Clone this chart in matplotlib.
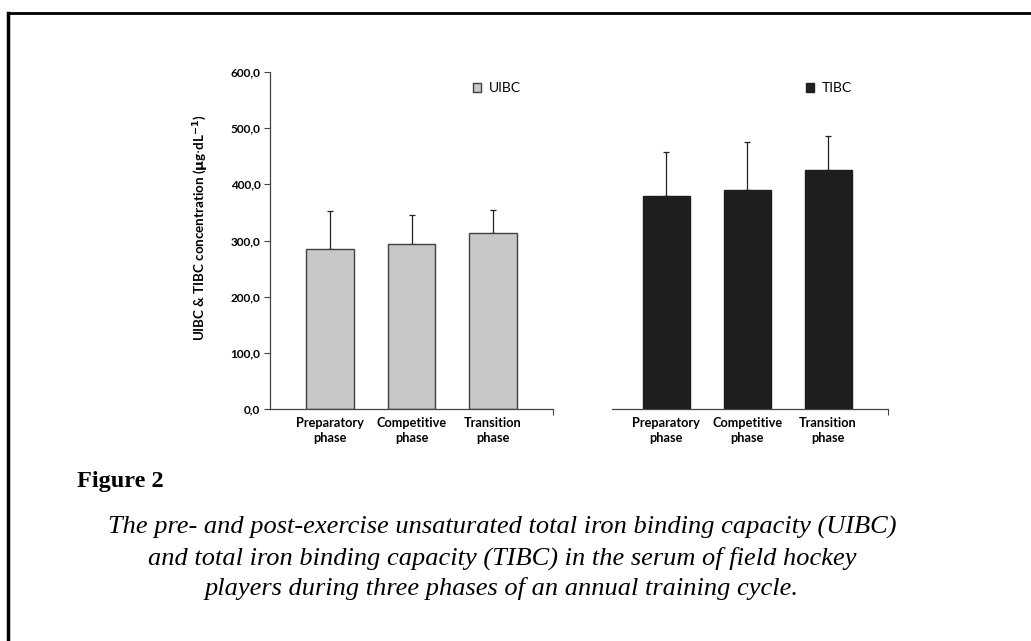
import matplotlib
matplotlib.use('Agg')
import matplotlib.pyplot as plt
from matplotlib.patches import Patch
from matplotlib.lines import Line2D

phases = ['Preparatory\nphase', 'Competitive\nphase', 'Transition\nphase']
uibc_mean = [284, 294, 314]
uibc_sd = [69, 51, 40]
tibc_mean = [380, 390, 426]
tibc_sd = [77, 85, 60]
yticks = [0, 100, 200, 300, 400, 500, 600]

W, H = 1031, 641
fig = plt.figure(figsize=(W / 100, H / 100), dpi=100)
plt.rcParams['font.family'] = ['Lato', 'DejaVu Sans']


def fx(px):
    return px / W


def fy(py):
    return 1 - py / H


def draw_panel(ax, means, sds, color, edge, xlim, show_y):
    x = range(len(means))
    ax.bar(x, means, width=0.58, color=color, edgecolor=edge, linewidth=1.0, zorder=2)
    ax.errorbar(x, means, yerr=[[0] * len(sds), sds], fmt='none', ecolor='#222222',
                elinewidth=0.9, capsize=2.5, capthick=0.9, zorder=1)
    ax.set_xlim(*xlim)
    ax.set_ylim(0, 600)
    ax.set_xticks(list(x))
    ax.set_xticklabels(phases, fontsize=9.2, fontweight='bold', linespacing=1.25)
    ax.tick_params(axis='x', length=0, pad=6)
    ax.set_xticks([xlim[1]], minor=True)
    ax.tick_params(axis='x', which='minor', length=4, width=0.8, color='#444444')
    for s in ['top', 'right']:
        ax.spines[s].set_visible(False)
    ax.spines['bottom'].set_color('#444444')
    ax.spines['bottom'].set_linewidth(0.9)
    if show_y:
        ax.set_yticks(yticks)
        ax.set_yticklabels(['%d,0' % v for v in yticks], fontsize=8.5, fontweight='bold')
        ax.tick_params(axis='y', length=4, width=0.8, color='#444444', pad=3)
        ax.spines['left'].set_color('#444444')
        ax.spines['left'].set_linewidth(0.9)
    else:
        ax.spines['left'].set_visible(False)
        ax.set_yticks([])


ax1 = fig.add_axes([fx(270), fy(409), fx(553 - 270), (409 - 72) / H])
draw_panel(ax1, uibc_mean, uibc_sd, '#c8c8c8', '#404040', (-0.736, 2.736), True)
ax1.set_ylabel('UIBC & TIBC concentration ($\\mathbf{\\mu}$g$\\cdot$dL$^{\\mathbf{-1}}$)',
               fontsize=9.6, fontweight='bold')
ax1.yaxis.set_label_coords((211 - 270) / (553 - 270), (409 - 228) / (409 - 72))

ax2 = fig.add_axes([fx(612), fy(409), fx(888 - 612), (409 - 72) / H])
draw_panel(ax2, tibc_mean, tibc_sd, '#1e1e1e', '#1e1e1e', (-0.67, 2.74), False)

fig.legend(handles=[Patch(facecolor='#c8c8c8', edgecolor='#404040', label='UIBC')],
           loc='center left', bbox_to_anchor=(fx(460), fy(88)), frameon=False,
           handlelength=0.6, handleheight=0.6, handletextpad=0.6, fontsize=10)
fig.legend(handles=[Patch(facecolor='#1e1e1e', edgecolor='#1e1e1e', label='TIBC')],
           loc='center left', bbox_to_anchor=(fx(793), fy(88)), frameon=False,
           handlelength=0.6, handleheight=0.6, handletextpad=0.6, fontsize=10)

# page border (top and left)
fig.add_artist(Line2D([fx(8), 1], [fy(13), fy(13)], color='black', lw=2))
fig.add_artist(Line2D([fx(8), fx(8)], [fy(13), 0], color='black', lw=2.5))

fig.text(fx(77), fy(482), 'Figure 2', family=['Liberation Serif'], fontweight='bold',
         fontsize=17.5, ha='left', va='center')
caption = ['The pre- and post-exercise unsaturated total iron binding capacity (UIBC)',
           'and total iron binding capacity (TIBC) in the serum of field hockey',
           'players during three phases of an annual training cycle.']
for i, line in enumerate(caption):
    fig.text(fx(502), fy(527 + 31 * i), line, family=['Liberation Serif'], style='italic',
             fontsize=19, ha='center', va='center')

fig.savefig('out.png', dpi=100)
